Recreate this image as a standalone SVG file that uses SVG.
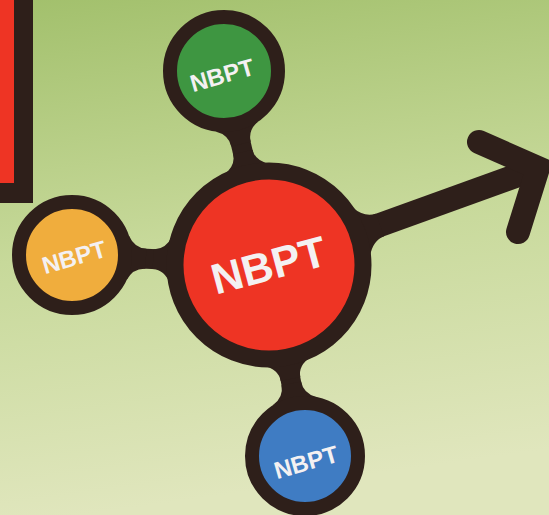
<svg xmlns="http://www.w3.org/2000/svg" width="549" height="515" viewBox="0 0 549 515">
<defs>
<linearGradient id="bg" x1="0" y1="0" x2="0.15" y2="1">
<stop offset="0" stop-color="#a2c06c"/>
<stop offset="0.5" stop-color="#c7d99a"/>
<stop offset="1" stop-color="#e0e6bd"/>
</linearGradient>
<style>
.ring{stroke:#2e1f1a;stroke-width:14}
.conn{stroke:#2e1f1a;stroke-width:20;fill:none;stroke-linecap:butt}
.flare{fill:#2e1f1a}
.lbl{font-family:"Liberation Sans",Arial,sans-serif;font-weight:bold;fill:#f4f1f2;text-anchor:middle}
</style>
</defs>
<rect x="0" y="0" width="549" height="515" fill="url(#bg)"/>
<g id="redbox">
<rect x="-20" y="-20" width="53" height="223" fill="#2e1f1a"/>
<rect x="-20" y="-20" width="34" height="203" fill="#ee3424"/>
</g>
<g id="connectors">
<line class="conn" x1="224" y1="71" x2="269" y2="265"/>
<path class="flare" d="M252.5,149.7 Q255.2,161.4 270.3,164.1 L223.5,174.9 Q235.8,166 233.1,154.3 Z"/>
<path class="flare" d="M250.7,141.8 Q247.9,130.1 258.3,121.5 L215.5,131.5 Q228.5,134.7 231.3,146.4 Z"/>
<line class="conn" x1="72" y1="255" x2="269" y2="265"/>
<path class="flare" d="M153.7,249.1 Q165.6,249.7 172.3,236 L169.9,284 Q164.6,269.7 152.7,269.1 Z"/>
<path class="flare" d="M146.4,248.8 Q134.4,248.1 129,235.8 L126.8,279.8 Q133.4,268.1 145.4,268.8 Z"/>
<line class="conn" x1="305" y1="456" x2="269" y2="265"/>
<path class="flare" d="M300.3,377.1 Q298.1,365.3 310.7,356.9 L263.5,365.7 Q278.5,369.1 280.7,380.9 Z"/>
<path class="flare" d="M301.1,381.4 Q303.3,393.2 316.2,396.9 L273,405.1 Q283.7,397 281.5,385.2 Z"/>
<polyline points="269,265 538,168" fill="none" stroke="#2e1f1a" stroke-width="24"/>
<path class="flare" d="M384.1,236.3 Q372.8,240.4 370,256.3 L352.4,207.3 Q364.6,217.8 375.9,213.7 Z"/>
<polyline points="479,142 538,168 518,232" fill="none" stroke="#2e1f1a" stroke-width="24" stroke-linecap="round" stroke-linejoin="miter"/>
</g>
<g id="center">
<circle cx="269" cy="265" r="94" fill="#ee3424" class="ring" style="stroke-width:17"/>
<text class="lbl" x="269" y="280" font-size="43" transform="rotate(-15 269 266)">NBPT</text>
</g>
<g id="green">
<circle cx="224" cy="71" r="54" fill="#3e9641" class="ring"/>
<text class="lbl" x="222" y="83.5" font-size="24" transform="rotate(-16 222 75)">NBPT</text>
</g>
<g id="orange">
<circle cx="72" cy="255" r="53" fill="#f0ad3d" class="ring"/>
<text class="lbl" x="74" y="265.5" font-size="24" transform="rotate(-16 74 257)">NBPT</text>
</g>
<g id="blue">
<circle cx="305" cy="456" r="53" fill="#3f7cc3" class="ring"/>
<text class="lbl" x="306" y="470.5" font-size="24" transform="rotate(-16 306 462)">NBPT</text>
</g>
</svg>
